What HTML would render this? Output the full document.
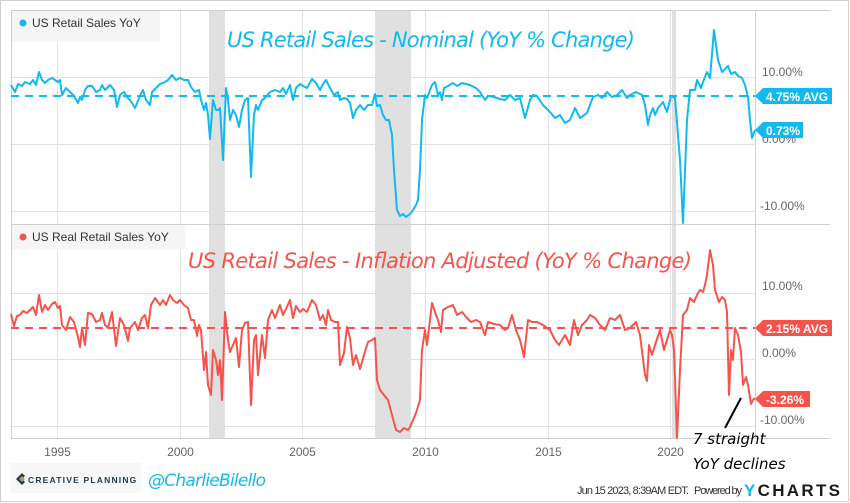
<!DOCTYPE html>
<html><head><meta charset="utf-8"><style>
html,body{margin:0;padding:0;background:#fff;}
svg{display:block;font-family:"Liberation Sans",sans-serif;}
</style></head><body>
<svg width="850" height="503" viewBox="0 0 850 503" xmlns="http://www.w3.org/2000/svg">
<rect x="0.5" y="0.5" width="848" height="501" fill="#fff" stroke="#d0d0d0"/>
<!-- recessions -->
<rect x="209" y="10" width="16" height="428" fill="#e0e0e0"/>
<rect x="375" y="10" width="36" height="428" fill="#e0e0e0"/>
<rect x="672" y="10" width="4" height="428" fill="#e0e0e0"/>
<!-- vertical grid -->
<g stroke="#e2e2e2" stroke-width="1">
<line x1="57.5" y1="10" x2="57.5" y2="438"/><line x1="180.5" y1="10" x2="180.5" y2="438"/>
<line x1="302.5" y1="10" x2="302.5" y2="438"/><line x1="425.5" y1="10" x2="425.5" y2="438"/>
<line x1="548.5" y1="10" x2="548.5" y2="438"/><line x1="670.5" y1="10" x2="670.5" y2="438"/>
<line x1="11" y1="77.5" x2="755" y2="77.5"/><line x1="11" y1="144.5" x2="755" y2="144.5"/><line x1="11" y1="211.5" x2="755" y2="211.5"/>
<line x1="11" y1="293.5" x2="755" y2="293.5"/><line x1="11" y1="359.5" x2="755" y2="359.5"/><line x1="11" y1="426.5" x2="755" y2="426.5"/>
</g>
<g stroke="#cfcfcf" stroke-width="1">
<line x1="11" y1="10.5" x2="830" y2="10.5"/><line x1="11" y1="224.5" x2="830" y2="224.5"/><line x1="11" y1="438.5" x2="830" y2="438.5"/>
<line x1="11.5" y1="10" x2="11.5" y2="438"/><line x1="755.5" y1="10" x2="755.5" y2="438"/>
</g>
<!-- legends -->
<rect x="12" y="11" width="148" height="30" fill="#f5f5f5"/>
<circle cx="23" cy="23" r="3.5" fill="#12b9ee"/>
<text x="32" y="27" font-size="12" fill="#333">US Retail Sales YoY</text>
<rect x="12" y="225" width="173" height="24" fill="#f5f5f5"/>
<circle cx="23" cy="237" r="3.5" fill="#f5544a"/>
<text x="32" y="241" font-size="12" fill="#333">US Real Retail Sales YoY</text>
<!-- titles -->
<text x="227" y="47" font-size="21" font-style="italic" fill="#12b9ee" textLength="408" font-family="DejaVu Sans, sans-serif">US Retail Sales - Nominal (YoY % Change)</text>
<text x="188" y="268" font-size="21" font-style="italic" fill="#f5544a" textLength="504" font-family="DejaVu Sans, sans-serif">US Retail Sales - Inflation Adjusted (YoY % Change)</text>
<!-- avg lines -->
<line x1="11" y1="96" x2="755" y2="96" stroke="#12b9ee" stroke-width="2" stroke-dasharray="8,6"/>
<line x1="11" y1="328" x2="755" y2="328" stroke="#f5544a" stroke-width="2" stroke-dasharray="8,6"/>
<!-- series -->
<polyline fill="none" stroke="#12b9ee" stroke-width="2" stroke-linejoin="round" points="11,85 15,92 18,84 22,86 25,82 30,84 33,80 36,85 39,72 42,80 45,83 48,80 52,78 55,80 58,82 60,80 62,95 66,88 70,92 74,96 78,103 80,97 82,100 85,90 88,86 92,86 96,92 100,90 102,85 105,90 110,85 114,90 117,107 120,95 124,92 127,97 130,100 135,108 140,96 143,90 146,100 150,105 152,92 156,88 160,84 165,82 168,80 172,75 176,80 180,78 184,80 188,80 191,87 195,92 199,90 201,100 204,110 206,103 208,115 210,139 213,100 216,110 218,110 220,108 223,160 226,88 228,100 230,120 233,110 236,115 239,127 242,110 245,100 248,98 251,177 254,115 256,105 258,110 262,100 265,98 270,92 275,90 280,92 283,88 286,94 290,85 293,100 296,88 300,84 303,86 307,88 312,79 316,83 320,90 323,84 326,80 330,88 334,95 338,92 340,100 344,98 347,99 350,103 353,118 356,110 360,105 364,110 368,105 372,105 375,94 377,106 380,105 383,115 386,120 389,120 392,135 394,170 397,210 400,216 403,214 406,217 410,214 413,210 416,205 418,200 420,170 422,120 425,95 427,98 432,85 435,82 438,95 440,92 442,100 444,88 448,86 453,83 457,86 462,83 470,85 476,88 480,92 485,100 488,96 494,97 500,99 505,100 510,95 515,100 520,98 525,118 530,100 533,95 537,96 543,105 550,112 555,118 560,115 565,123 570,120 575,108 580,118 587,113 593,97 598,95 602,98 607,92 612,97 617,95 622,90 627,98 630,95 636,92 642,95 645,105 648,125 650,115 653,108 655,115 658,108 663,102 667,112 671,96 675,98 680,160 683,223 687,120 690,90 695,90 697,80 701,88 703,82 707,72 710,78 714,30 718,60 722,72 728,66 731,74 735,72 738,76 742,78 745,85 748,97 750,120 752,138 755,130"/>
<polyline fill="none" stroke="#f5544a" stroke-width="2" stroke-linejoin="round" points="11,314 14,326 17,316 20,315 23,311 27,313 30,310 33,307 36,315 39,295 42,312 45,305 48,310 52,304 55,302 58,308 60,306 62,325 66,330 70,317 74,322 78,337 80,347 82,328 85,345 88,313 92,314 96,322 100,320 102,313 105,325 108,328 112,312 116,346 120,318 124,325 128,341 130,328 135,322 138,330 142,318 145,315 148,328 151,305 155,298 160,305 163,300 166,305 170,295 173,300 177,303 180,300 184,305 188,308 191,320 194,320 197,336 199,325 201,330 204,370 206,352 208,385 211,395 213,350 216,360 218,375 220,360 222,400 225,312 228,340 230,352 233,345 236,338 239,367 242,330 245,323 248,322 251,405 254,340 256,335 258,375 262,335 265,358 268,320 272,310 275,318 280,305 283,315 286,309 290,300 293,318 296,306 300,312 303,309 307,312 312,300 316,305 320,320 323,315 326,325 328,310 331,320 335,322 338,322 340,365 344,353 347,327 350,338 353,365 356,355 360,369 364,355 368,342 372,340 375,338 377,380 380,390 384,395 388,400 392,415 396,430 400,432 404,428 408,430 410,427 413,420 416,413 420,400 422,350 425,330 427,345 432,303 436,315 438,320 441,332 443,310 448,307 453,305 457,315 462,312 467,318 471,322 476,320 480,322 485,335 488,322 494,324 500,325 505,330 508,328 512,315 516,330 520,340 524,357 528,320 532,322 537,322 543,325 550,330 555,340 559,345 565,335 570,345 574,320 578,335 582,325 587,320 590,315 595,318 600,325 605,330 610,318 615,320 620,315 625,330 630,328 636,322 640,335 645,375 647,381 649,345 652,355 655,345 660,330 664,350 667,340 670,330 672,335 674,350 677,438 680,370 683,315 687,310 690,298 694,302 697,295 700,290 703,292 705,285 707,275 710,250 713,265 715,290 719,302 722,297 725,300 727,312 729,395 731,350 733,360 735,328 738,335 741,352 743,385 746,377 748,385 751,404 753,400 755,398"/>
<!-- axis labels -->
<g font-size="12" fill="#666">
<text x="762" y="76">10.00%</text>
<text x="762" y="143">0.00%</text>
<text x="760" y="210">-10.00%</text>
<text x="762" y="290">10.00%</text>
<text x="762" y="357">0.00%</text>
<text x="760" y="424">-10.00%</text>
<g text-anchor="middle"><text x="57.5" y="456">1995</text><text x="180.5" y="456">2000</text><text x="302.5" y="456">2005</text><text x="425.5" y="456">2010</text><text x="548.5" y="456">2015</text><text x="670.5" y="456">2020</text></g>
</g>
<!-- tags -->
<g font-size="12" font-weight="bold" fill="#fff">
<polygon points="755,96 763,88 832,88 832,104 763,104" fill="#12b9ee"/><text x="766" y="101">4.75% AVG</text>
<polygon points="755,130 763,122 803,122 803,138 763,138" fill="#12b9ee"/><text x="766" y="135">0.73%</text>
<polygon points="755,328 763,320 832,320 832,336 763,336" fill="#f5544a"/><text x="766" y="333">2.15% AVG</text>
<polygon points="755,399 763,391 810,391 810,407 763,407" fill="#f5544a"/><text x="766" y="404">-3.26%</text>
</g>
<!-- annotation -->
<line x1="741" y1="398" x2="725" y2="428" stroke="#000" stroke-width="2"/>
<text x="693" y="444" font-size="15" font-style="italic" fill="#000" font-family="DejaVu Sans, sans-serif">7 straight</text>
<text x="693" y="469" font-size="15" font-style="italic" fill="#000" font-family="DejaVu Sans, sans-serif">YoY declines</text>
<!-- footer -->
<rect x="10" y="463" width="131" height="30" fill="#f7f7f7"/>
<path d="M22 473 l-6 6 l6 6 l3 -3 l-3 -3 l3 -3 z" fill="#1f3b4d"/>
<path d="M22 476 l3 3 l-3 3 l-3 -3z" fill="#b89a6a"/>
<text x="28" y="483" font-size="8.5" font-weight="bold" fill="#1f3b4d" letter-spacing="1.2">CREATIVE PLANNING</text>
<text x="148" y="486" font-size="17" font-style="italic" fill="#12b9ee" font-family="DejaVu Sans, sans-serif" textLength="118">@CharlieBilello</text>
<text x="577" y="494" font-size="11" fill="#333" textLength="112">Jun 15 2023, 8:39AM EDT.</text>
<text x="694" y="494" font-size="11" fill="#333" textLength="48">Powered by</text>
<text x="744" y="496" font-size="17" font-weight="bold" fill="#1a1a1a" textLength="96"><tspan fill="#12b9ee">Y</tspan>CHARTS</text>
</svg>
</body></html>
